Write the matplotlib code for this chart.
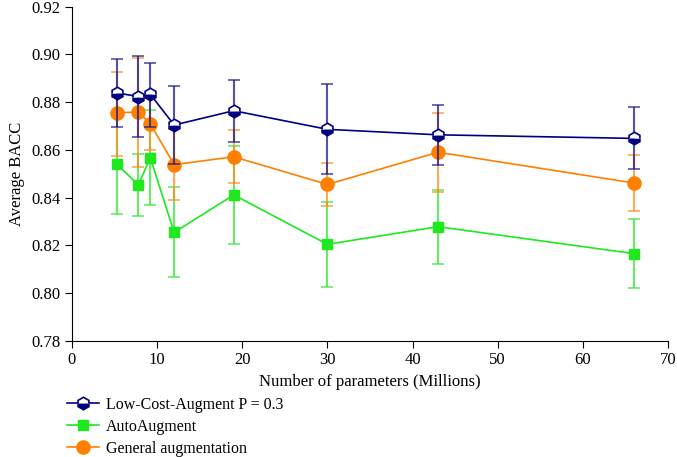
import matplotlib.pyplot as plt
from matplotlib.lines import Line2D
import numpy as np

plt.rcParams['font.family'] = ['Liberation Serif', 'DejaVu Serif']

params = [5.3, 7.8, 9.2, 12, 19, 30, 43, 66]

lca_mean = [0.8839, 0.8823, 0.8833, 0.8704, 0.8764, 0.8686, 0.8663, 0.8648]
lca_low = [0.8694, 0.8655, 0.8694, 0.8541, 0.8634, 0.8497, 0.8536, 0.8518]
lca_high = [0.8982, 0.8993, 0.8964, 0.8867, 0.8894, 0.8875, 0.8789, 0.8781]

auto_mean = [0.8539, 0.8453, 0.8567, 0.8254, 0.8411, 0.8204, 0.8278, 0.8165]
auto_low = [0.8332, 0.8324, 0.8369, 0.8067, 0.8207, 0.8026, 0.8121, 0.8020]
auto_high = [0.8746, 0.8582, 0.8766, 0.8444, 0.8616, 0.8381, 0.8432, 0.8310]

gen_mean = [0.8756, 0.8758, 0.8709, 0.8538, 0.8571, 0.8455, 0.8590, 0.8461]
gen_low = [0.8575, 0.8527, 0.8600, 0.8389, 0.8460, 0.8365, 0.8425, 0.8342]
gen_high = [0.8927, 0.8984, 0.8820, 0.8687, 0.8682, 0.8543, 0.8754, 0.8577]

fig = plt.figure(figsize=(6.77, 4.57), dpi=100)
ax = fig.add_axes([0.1063, 0.2545, 0.8804, 0.7308])

def yerr(mean, low, high):
    m = np.array(mean)
    return [m - np.array(low), np.array(high) - m]

green_style = dict(color='#1ee81e', marker='s', ms=7.5, mec='#1ee81e', lw=1.2)
orange_style = dict(color='#ff8000', marker='o', ms=9.5, mec='#ff8000', lw=1.2)
blue_style = dict(color='#000080', marker='h', ms=9, fillstyle='bottom',
                  markerfacecoloralt='white', mec='#000080', mew=1.2, lw=1.2)

ax.errorbar(params, auto_mean, yerr=yerr(auto_mean, auto_low, auto_high),
            ecolor=(0.2, 0.9, 0.2, 0.75), elinewidth=1.5, capsize=4, capthick=1.2,
            zorder=2, **green_style)
ax.errorbar(params, gen_mean, yerr=yerr(gen_mean, gen_low, gen_high),
            ecolor=(1.0, 0.55, 0.1, 0.75), elinewidth=1.5, capsize=4, capthick=1.2,
            zorder=3, **orange_style)
ax.errorbar(params, lca_mean, yerr=yerr(lca_mean, lca_low, lca_high),
            ecolor=(0.1, 0.1, 0.55, 0.75), elinewidth=1.5, capsize=4, capthick=1.2,
            zorder=4, **blue_style)

ax.set_xlim(0, 70)
ax.set_ylim(0.78, 0.92)
ax.set_xticks(np.arange(0, 71, 10))
ax.set_yticks(np.arange(0.78, 0.921, 0.02))
ax.yaxis.set_major_formatter(plt.FormatStrFormatter('%.2f'))
ax.spines['top'].set_visible(False)
ax.spines['right'].set_visible(False)
ax.tick_params(direction='out', length=5, labelsize=12)
ax.set_xlabel('Number of parameters (Millions)', fontsize=12)
ax.set_ylabel('Average BACC', fontsize=12)

handles = [Line2D([], [], **blue_style), Line2D([], [], **green_style),
           Line2D([], [], **orange_style)]
fig.legend(handles, ['Low-Cost-Augment P = 0.3', 'AutoAugment', 'General augmentation'],
           loc='upper left', bbox_to_anchor=(0.09, 0.146), frameon=False,
           fontsize=11.5, handlelength=2.0, handletextpad=0.4, labelspacing=0.38,
           borderaxespad=0)

fig.savefig('out.png', dpi=100)
